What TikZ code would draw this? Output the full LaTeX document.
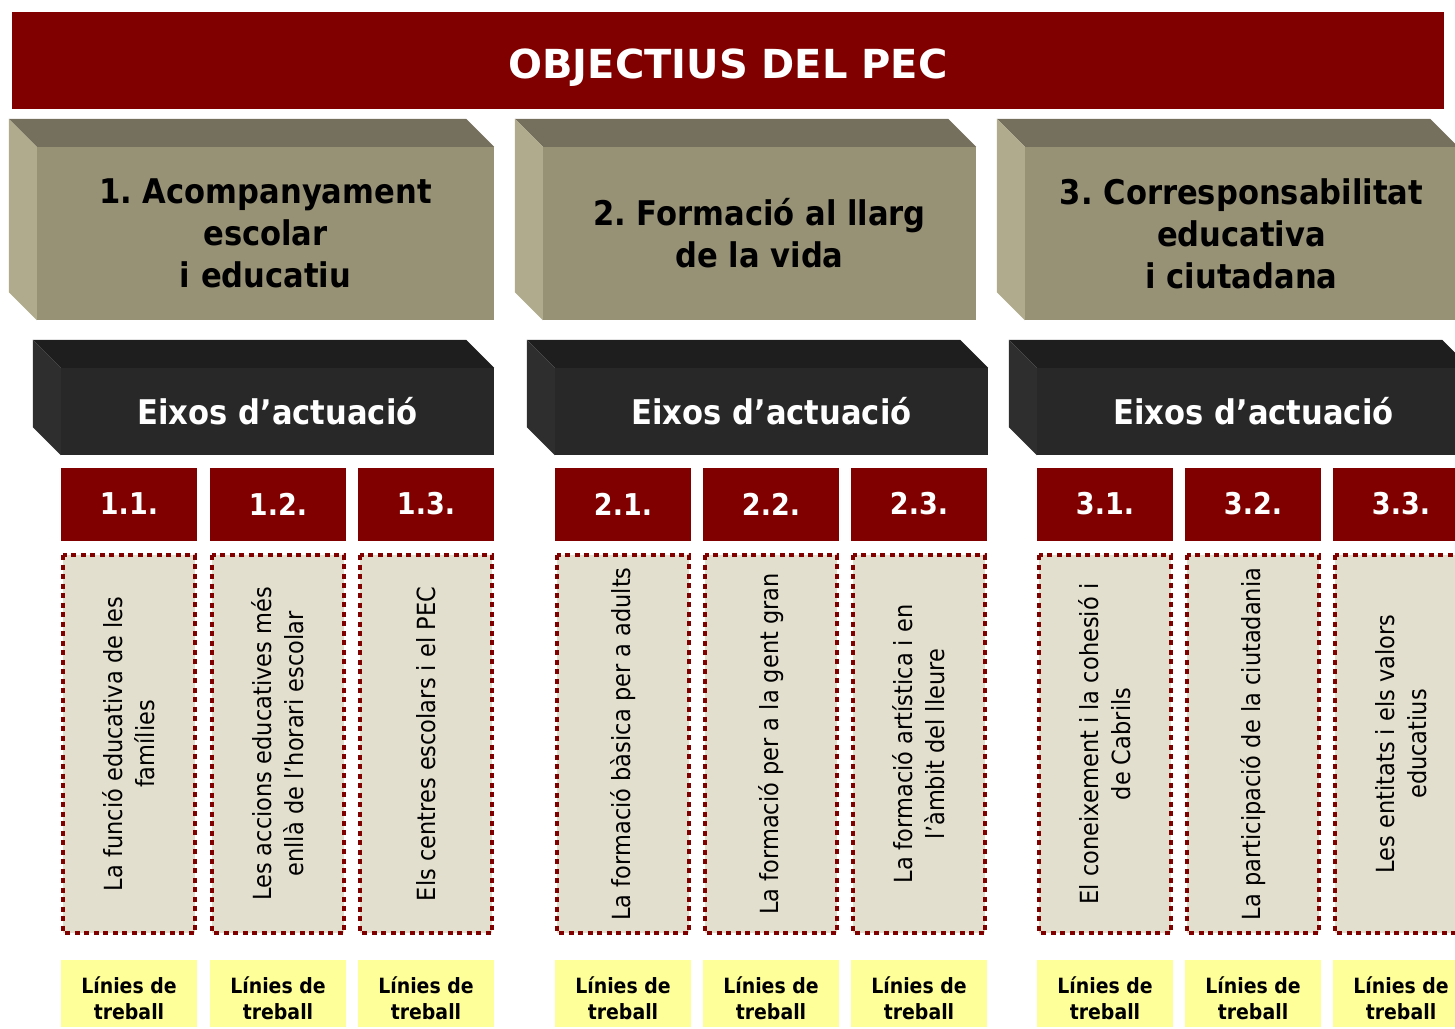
\documentclass[tikz,border=0pt]{standalone}
\usepackage{fontspec}
\setmainfont{DejaVu Sans}
\newfontfamily\narrowsans[FakeStretch=0.9]{DejaVu Sans}
\frenchspacing

\definecolor{pecred}{RGB}{128,0,0}
\definecolor{olivefront}{RGB}{151,145,118}
\definecolor{olivetop}{RGB}{117,112,94}
\definecolor{oliveside}{RGB}{176,171,140}
\definecolor{darkfront}{RGB}{40,40,40}
\definecolor{darktop}{RGB}{30,30,30}
\definecolor{darkside}{RGB}{46,46,46}
\definecolor{axisfill}{RGB}{227,223,206}
\definecolor{linefill}{RGB}{255,255,153}

\tikzset{
  titlebar/.style={fill=pecred, text=white, inner sep=0pt,
    font=\fontsize{40}{48}\selectfont\bfseries,
    text height=35pt, text depth=0pt,
    minimum width=1432pt, minimum height=97pt},
  objbox/.style={fill=olivefront, inner sep=0pt, align=center,
    font=\narrowsans\bfseries\fontsize{34}{42}\selectfont,
    minimum height=173pt},
  eixbox/.style={fill=darkfront, text=white, inner sep=0pt,
    font=\narrowsans\bfseries\fontsize{34}{40}\selectfont,
    minimum width=433pt, minimum height=87pt},
  numbox/.style={fill=pecred, text=white, inner sep=0pt,
    font=\narrowsans\bfseries\fontsize{30}{36}\selectfont,
    minimum width=136pt, minimum height=73pt},
  axisbox/.style={fill=axisfill, draw=pecred, line width=4.5pt,
    dash pattern=on 5pt off 4.5pt, rotate=90, inner sep=0pt, align=center,
    font=\narrowsans\fontsize{25}{32}\selectfont,
    minimum width=378pt, minimum height=132pt},
  linebox/.style={fill=linefill, inner sep=0pt, align=center,
    font=\narrowsans\bfseries\fontsize{21}{26}\selectfont,
    text height=51pt, text depth=0pt,
    minimum width=136pt, minimum height=67pt}
}

\begin{document}
\begin{tikzpicture}[x=1pt,y=-1pt]
  \useasboundingbox (0,0) rectangle (1455,1028);

  \node[titlebar] (title) at (728,60.5) {OBJECTIUS DEL PEC};

  % objectius
  \node[objbox,minimum width=457pt] (obj1) at (265.5,233.5) {1. Acompanyament\\escolar\\i educatiu};
  \node[objbox,minimum width=433pt] (obj2) at (759.5,233.5) {2. Formació al llarg\\de la vida};
  \node[objbox,minimum width=433pt] (obj3) at (1241.5,233.5) {3. Corresponsabilitat\\educativa\\i ciutadana};
  \fill[olivetop] (obj1.north west) -- ++(-28,-28) -- ([shift={(-28,-28)}]obj1.north east) -- (obj1.north east) -- cycle;
  \fill[oliveside] (obj1.north west) -- ++(-28,-28) -- ([shift={(-28,-28)}]obj1.south west) -- (obj1.south west) -- cycle;
  \fill[olivetop] (obj2.north west) -- ++(-28,-28) -- ([shift={(-28,-28)}]obj2.north east) -- (obj2.north east) -- cycle;
  \fill[oliveside] (obj2.north west) -- ++(-28,-28) -- ([shift={(-28,-28)}]obj2.south west) -- (obj2.south west) -- cycle;
  \fill[olivetop] (obj3.north west) -- ++(-28,-28) -- ([shift={(-28,-28)}]obj3.north east) -- (obj3.north east) -- cycle;
  \fill[oliveside] (obj3.north west) -- ++(-28,-28) -- ([shift={(-28,-28)}]obj3.south west) -- (obj3.south west) -- cycle;

  % eixos
  \node[eixbox] (eix1) at (277.5,411.5) {Eixos d’actuació};
  \node[eixbox] (eix2) at (771.5,411.5) {Eixos d’actuació};
  \node[eixbox] (eix3) at (1253.5,411.5) {Eixos d’actuació};
  \fill[darktop] (eix1.north west) -- ++(-28,-28) -- ([shift={(-28,-28)}]eix1.north east) -- (eix1.north east) -- cycle;
  \fill[darkside] (eix1.north west) -- ++(-28,-28) -- ([shift={(-28,-28)}]eix1.south west) -- (eix1.south west) -- cycle;
  \fill[darktop] (eix2.north west) -- ++(-28,-28) -- ([shift={(-28,-28)}]eix2.north east) -- (eix2.north east) -- cycle;
  \fill[darkside] (eix2.north west) -- ++(-28,-28) -- ([shift={(-28,-28)}]eix2.south west) -- (eix2.south west) -- cycle;
  \fill[darktop] (eix3.north west) -- ++(-28,-28) -- ([shift={(-28,-28)}]eix3.north east) -- (eix3.north east) -- cycle;
  \fill[darkside] (eix3.north west) -- ++(-28,-28) -- ([shift={(-28,-28)}]eix3.south west) -- (eix3.south west) -- cycle;

  % numeros
  \node[numbox] (num11) at (129,504) {1.1.};
  \node[numbox] (num12) at (278,504) {1.2.};
  \node[numbox] (num13) at (426,504) {1.3.};
  \node[numbox] (num21) at (623,504) {2.1.};
  \node[numbox] (num22) at (771,504) {2.2.};
  \node[numbox] (num23) at (919,504) {2.3.};
  \node[numbox] (num31) at (1105,504) {3.1.};
  \node[numbox] (num32) at (1253,504) {3.2.};
  \node[numbox] (num33) at (1401,504) {3.3.};

  % eixos en vertical
  \node[axisbox] (ax11) at (129,744) {La funció educativa de les\\famílies};
  \node[axisbox] (ax12) at (278,744) {Les accions educatives més\\enllà de l’horari escolar};
  \node[axisbox] (ax13) at (426,744) {Els centres escolars i el PEC};
  \node[axisbox] (ax21) at (623,744) {La formació bàsica per a adults};
  \node[axisbox] (ax22) at (771,744) {La formació per a la gent gran};
  \node[axisbox] (ax23) at (919,744) {La formació artística i en\\l’àmbit del lleure};
  \node[axisbox] (ax31) at (1105,744) {El coneixement i la cohesió i\\de Cabrils};
  \node[axisbox] (ax32) at (1253,744) {La participació de la ciutadania};
  \node[axisbox] (ax33) at (1401,744) {Les entitats i els valors\\educatius};

  % linies de treball
  \node[linebox] (lin11) at (129,993.5) {Línies de\\treball};
  \node[linebox] (lin12) at (278,993.5) {Línies de\\treball};
  \node[linebox] (lin13) at (426,993.5) {Línies de\\treball};
  \node[linebox] (lin21) at (623,993.5) {Línies de\\treball};
  \node[linebox] (lin22) at (771,993.5) {Línies de\\treball};
  \node[linebox] (lin23) at (919,993.5) {Línies de\\treball};
  \node[linebox] (lin31) at (1105,993.5) {Línies de\\treball};
  \node[linebox] (lin32) at (1253,993.5) {Línies de\\treball};
  \node[linebox] (lin33) at (1401,993.5) {Línies de\\treball};
\end{tikzpicture}
\end{document}
